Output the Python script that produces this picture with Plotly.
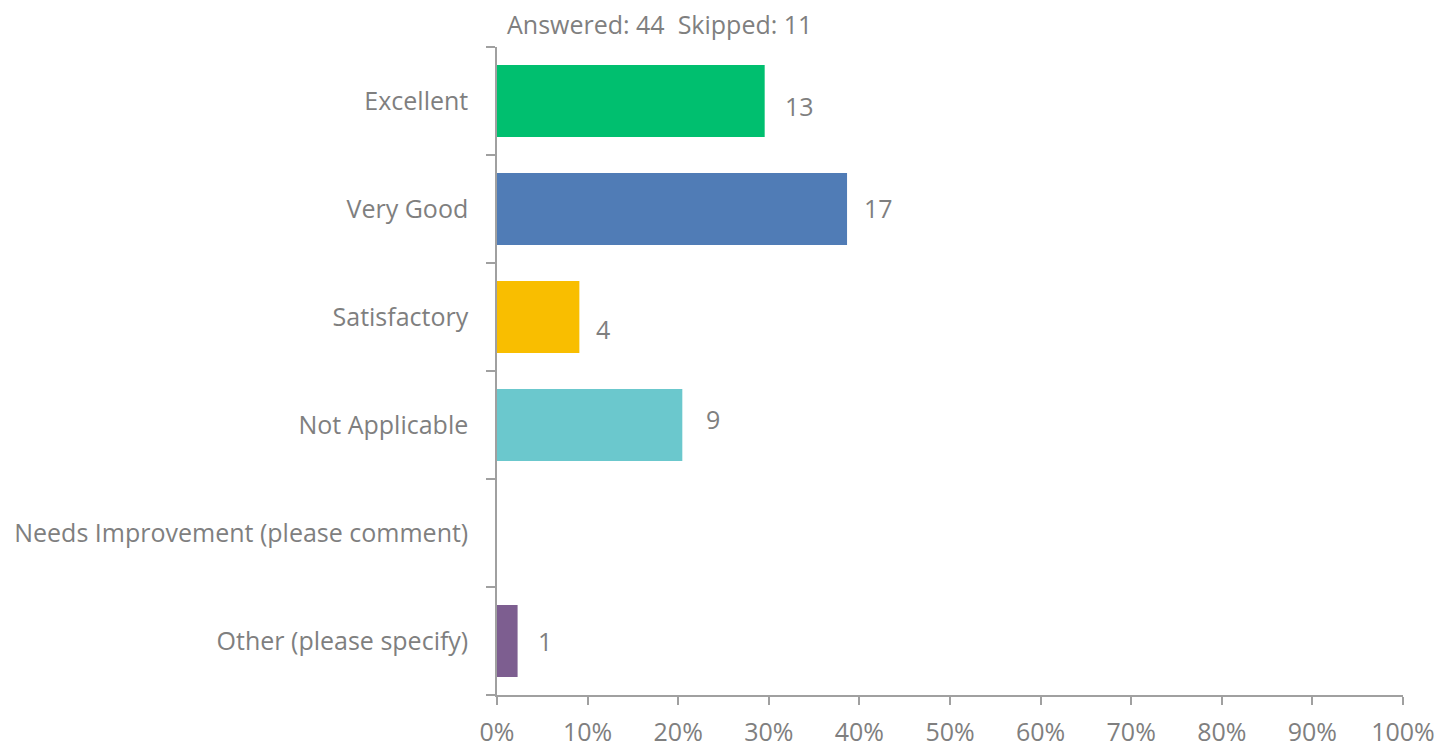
import plotly.graph_objects as go

# Survey question responses
categories = [
    "Excellent",
    "Very Good",
    "Satisfactory",
    "Not Applicable",
    "Needs Improvement (please comment)",
    "Other (please specify)",
]
counts = [13, 17, 4, 9, 0, 1]
answered = 44
skipped = 11
colors = ["#00BF6F", "#507CB6", "#F9BE00", "#6BC8CD", "#FF8B4F", "#7D5E90"]
tick_values = [i / 10 for i in range(11)]
tick_labels = [f"{i * 10}%" for i in range(11)]

shares = [c / answered for c in counts]

# small vertical nudges for the count labels (pixels, up is positive)
label_nudge = [-5, 1, -12, 6, 0, 0]
label_gap = [18, 15, 15, 22, 15, 18]

FONT = "Segoe UI, Open Sans, sans-serif"
SIZE = 25
GREY = "#7f7f7f"
AXIS = "#a0a0a0"

fig = go.Figure(
    go.Bar(
        x=shares,
        y=categories,
        orientation="h",
        marker=dict(color=colors, line=dict(width=0)),
        hoverinfo="skip",
    )
)

# Count labels beside each non-empty bar
for cat, share, n, dy, dx in zip(categories, shares, counts, label_nudge, label_gap):
    if n > 0:
        fig.add_annotation(
            x=share, y=cat, text=str(n), showarrow=False,
            xanchor="left", xshift=dx, yshift=dy,
            font=dict(family=FONT, size=SIZE, color=GREY),
        )

fig.add_annotation(
    x=0, y=1, xref="paper", yref="paper",
    text=f"Answered: {answered}&nbsp;&nbsp;Skipped: {skipped}",
    showarrow=False, xanchor="left", yanchor="bottom",
    xshift=8, yshift=4,
    font=dict(family=FONT, size=SIZE, color=GREY),
)

fig.update_layout(
    width=1440, height=747,
    margin=dict(l=497, r=37, t=47, b=52, autoexpand=False),
    paper_bgcolor="white", plot_bgcolor="white",
    bargap=1 / 3,
    showlegend=False,
    font=dict(family=FONT, size=SIZE, color=GREY),
    xaxis=dict(
        range=[0, 1], tickvals=tick_values, ticktext=tick_labels,
        showgrid=False, zeroline=False,
        showline=True, linecolor=AXIS, linewidth=1.5,
        ticks="outside", ticklen=8, tickcolor=AXIS, tickwidth=1.5,
        tickfont=dict(family=FONT, size=SIZE, color=GREY),
        ticklabelstandoff=6,
        automargin=False,
        fixedrange=True,
    ),
    yaxis=dict(
        categoryorder="array", categoryarray=categories[::-1],
        showgrid=False, zeroline=False,
        showline=True, linecolor=AXIS, linewidth=1.5,
        ticks="outside", tickson="boundaries", ticklen=9,
        tickcolor=AXIS, tickwidth=1.5,
        tickfont=dict(family=FONT, size=SIZE, color=GREY),
        ticklabelstandoff=22,
        automargin=False,
        fixedrange=True,
    ),
)

fig.write_html("out.html", config={"displayModeBar": False})
